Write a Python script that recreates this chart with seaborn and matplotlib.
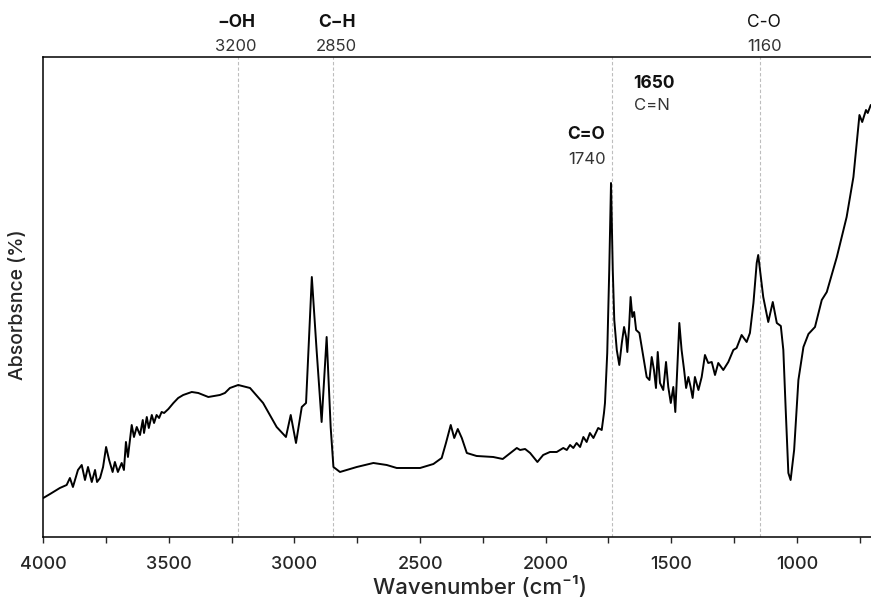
import pandas as pd
import seaborn as sns
import matplotlib.pyplot as plt
from matplotlib.ticker import MultipleLocator, NullLocator
from matplotlib.transforms import blended_transform_factory

# FTIR spectrum (wavenumber in cm-1, absorbance in %)
wavenumber = [
    4000, 3973, 3934, 3907, 3894, 3882, 3862, 3847, 3834, 3822, 3807, 3794,
    3786, 3774, 3762, 3750, 3738, 3724, 3715, 3703, 3688, 3679, 3671, 3663,
    3648, 3639, 3628, 3615, 3604, 3599, 3588, 3580, 3568, 3559, 3549, 3539,
    3529, 3519, 3502, 3482, 3463, 3443, 3409, 3383, 3343, 3297, 3277, 3257,
    3224, 3177, 3125, 3071, 3034, 3015, 2994, 2971, 2954, 2931, 2912, 2892,
    2872, 2856, 2845, 2819, 2752, 2686, 2633, 2593, 2553, 2500, 2447, 2414,
    2397, 2378, 2364, 2350, 2334, 2314, 2275, 2209, 2171, 2135, 2115, 2102,
    2082, 2062, 2033, 2010, 1983, 1956, 1930, 1916, 1903, 1890, 1877, 1863,
    1850, 1837, 1824, 1810, 1791, 1777, 1768, 1764, 1755, 1747, 1740, 1733,
    1727, 1717, 1707, 1697, 1688, 1680, 1675, 1668, 1662, 1655, 1648, 1640,
    1627, 1611, 1598, 1587, 1578, 1569, 1561, 1554, 1545, 1532, 1521, 1512,
    1502, 1492, 1484, 1468, 1459, 1449, 1441, 1432, 1423, 1415, 1406, 1392,
    1379, 1366, 1353, 1339, 1326, 1313, 1293, 1273, 1253, 1240, 1220, 1200,
    1187, 1173, 1160, 1154, 1134, 1114, 1096, 1080, 1064, 1054, 1045, 1034,
    1025, 1011, 994, 974, 954, 928, 901, 881, 841, 802, 775, 762,
    751, 740, 725, 718, 706,
]
absorbance = [
    3.9, 4.3, 4.9, 5.2, 5.9, 5.0, 6.7, 7.2, 5.7, 7.0, 5.5, 6.7,
    5.5, 5.9, 7.0, 9.0, 7.7, 6.5, 7.5, 6.5, 7.4, 6.7, 9.5, 8.0,
    11.2, 10.0, 11.0, 10.2, 11.7, 10.4, 12.0, 10.9, 12.2, 11.4, 12.2, 11.9,
    12.5, 12.4, 12.8, 13.4, 13.9, 14.2, 14.5, 14.4, 14.0, 14.2, 14.4, 14.9,
    15.2, 14.9, 13.4, 11.0, 10.0, 12.2, 9.4, 13.0, 13.4, 26.0, 18.7, 11.5,
    20.0, 11.0, 7.0, 6.5, 7.0, 7.4, 7.2, 6.9, 6.9, 6.9, 7.3, 7.9,
    9.4, 11.2, 9.9, 10.8, 9.9, 8.4, 8.1, 8.0, 7.8, 8.5, 8.9, 8.7,
    8.8, 8.4, 7.5, 8.2, 8.5, 8.5, 8.9, 8.7, 9.2, 8.9, 9.4, 9.0,
    10.0, 9.5, 10.4, 9.9, 10.9, 10.7, 12.4, 13.4, 18.4, 26.7, 35.4, 26.7,
    21.7, 18.7, 17.2, 19.4, 21.0, 20.0, 18.5, 21.0, 24.0, 22.0, 22.5, 20.7,
    20.4, 18.0, 16.0, 15.7, 18.0, 16.7, 14.9, 18.5, 15.4, 14.7, 17.5, 15.0,
    13.4, 15.0, 12.5, 21.4, 18.7, 16.7, 14.9, 16.0, 15.0, 13.9, 16.0, 14.7,
    16.0, 18.2, 17.4, 17.5, 16.2, 17.4, 16.7, 17.5, 18.7, 18.9, 20.2, 19.5,
    20.4, 23.4, 27.4, 28.2, 24.0, 21.5, 23.5, 21.4, 21.1, 18.7, 13.0, 6.4,
    5.7, 8.7, 15.7, 19.0, 20.3, 21.0, 23.7, 24.5, 28.0, 32.0, 36.0, 39.4,
    42.2, 41.5, 42.7, 42.4, 43.2,
]

# dashed marker lines
marker_pos = [3224, 2845, 1735, 1145]

# labels above the plot: group, wavenumber text, weight of the group
top_groups = ["−OH", "C−H", "C-O"]
top_numbers = ["3200", "2850", "1160"]
top_x = [3232, 2832, 1130]
top_weight = ["bold", "bold", "normal"]

df = pd.DataFrame({"wavenumber": wavenumber, "absorbance": absorbance})

sns.set_style("ticks")
plt.rcParams["font.family"] = ["Inter", "DejaVu Sans"]

fig = plt.figure(figsize=(8.71, 6.02), dpi=100)
ax = fig.add_axes([0.0497, 0.108, 0.9503, 0.7973])

for x in marker_pos:
    ax.axvline(x, color="#bdbdbd", lw=0.8, ls=(0, (3, 2)), zorder=0)

sns.lineplot(data=df, x="wavenumber", y="absorbance", color="black", lw=1.4,
             estimator=None, sort=False, ax=ax)

ax.set_xlim(4000, 705)
ax.set_ylim(0, 48)

trans = blended_transform_factory(ax.transData, ax.transAxes)
for grp, num, x, w in zip(top_groups, top_numbers, top_x, top_weight):
    ax.text(x, 1.072, grp, transform=trans, ha="center", va="center",
            fontsize=12.5, fontweight=w, color="#111111", clip_on=False)
    ax.text(x, 1.021, num, transform=trans, ha="center", va="center",
            fontsize=12, color="#333333", clip_on=False)

# labels inside the plot
ax.text(1762, 0.8385, "C=O", transform=trans, ha="right", va="center",
        fontsize=12.5, fontweight="bold", color="#111111")
ax.text(1762, 0.7865, "1740", transform=trans, ha="right", va="center",
        fontsize=12, color="#333333")
ax.text(1650, 0.9458, "1650", transform=trans, ha="left", va="center",
        fontsize=12.5, fontweight="bold", color="#111111")
ax.text(1650, 0.898, "C=N", transform=trans, ha="left", va="center",
        fontsize=12, color="#333333")

ax.xaxis.set_major_locator(MultipleLocator(500))
ax.xaxis.set_minor_locator(MultipleLocator(250))
ax.yaxis.set_major_locator(NullLocator())
ax.tick_params(axis="x", which="both", direction="out", length=4, width=1,
               labelsize=13, pad=10)
for lab in ax.get_xticklabels():
    lab.set_fontweight("medium")

ax.spines["right"].set_visible(False)
for s in ["left", "top", "bottom"]:
    ax.spines[s].set_linewidth(1.1)
    ax.spines[s].set_color("black")

ax.set_xlabel("Wavenumber (cm⁻¹)", fontsize=16, fontweight="medium")
ax.set_ylabel("Absorbsnce (%)", fontsize=14, fontweight="medium")
ax.xaxis.set_label_coords(0.5276, -0.081)
ax.yaxis.set_label_coords(-0.0197, 0.483)

fig.savefig("out.png", dpi=100)
